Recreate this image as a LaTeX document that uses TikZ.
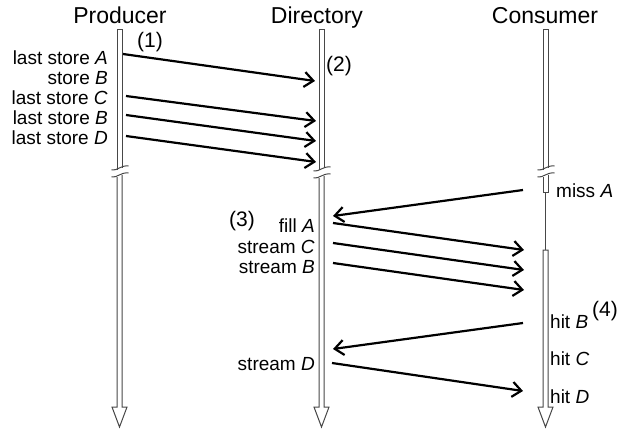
\documentclass[tikz,border=0pt]{standalone}
\usepackage{fontspec}
\setmainfont{Liberation Sans}
\usetikzlibrary{arrows.meta}
\newcommand{\lifebreak}[2]{%
  \draw[lifeline] ({#1-8},{#2+2}) .. controls ({#1-2},{#2+3}) and ({#1+1},{#2-3}) .. ({#1+9},{#2-2});}
\begin{document}
\begin{tikzpicture}[x=1pt,y=-1pt,
  lifeline/.style={draw=black!72, line width=1pt},
  shaft/.style={draw=black!72, line width=1pt, fill=white},
  msg/.style={line width=2.2pt, -{Straight Barb[length=9pt,width=15pt]}},
  title/.style={font=\fontsize{23}{26}\selectfont, anchor=base, inner sep=0pt},
  lbl/.style={font=\fontsize{19}{21}\selectfont, inner sep=0pt},
  num/.style={font=\fontsize{21}{24}\selectfont, inner sep=0pt}]
\useasboundingbox (0,0) rectangle (630,429);

% titles
\node[title] (tprod) at (120,23) {Producer};
\node[title] (tdir) at (317,23) {Directory};
\node[title] (tcons) at (545,23) {Consumer};

% producer lifeline
\draw[shaft] (117,170) -- (117,29) -- (122,29) -- (122,168);
\lifebreak{119.5}{168}
\lifebreak{119.5}{175}
\draw[shaft] (117,177) -- (117,407) -- (112,407) -- (119.5,427) -- (127,407) -- (122,407) -- (122,175);

% directory lifeline
\draw[shaft] (319,170) -- (319,29) -- (324,29) -- (324,168);
\lifebreak{321.5}{169}
\lifebreak{321.5}{176}
\draw[shaft] (319,178) -- (319,407) -- (314,407) -- (321.5,427) -- (329,407) -- (324,407) -- (324,176);

% consumer lifeline
\draw[shaft] (543,170) -- (543,29) -- (548,29) -- (548,168);
\lifebreak{545.5}{168}
\lifebreak{545.5}{175}
\draw[shaft] (543,177) -- (543,192) -- (548,192) -- (548,175);
\draw[lifeline] (545.5,192) -- (545.5,250);
\draw[shaft] (543,250) -- (543,407) -- (538,407) -- (545.5,427) -- (553,407) -- (548,407) -- (548,250) -- cycle;

% producer labels
\node[lbl, anchor=base east] (lA) at (108,64) {last store \textit{A}};
\node[lbl, anchor=base east] (lB0) at (108,84) {store \textit{B}};
\node[lbl, anchor=base east] (lC) at (108,104) {last store \textit{C}};
\node[lbl, anchor=base east] (lB) at (108,124) {last store \textit{B}};
\node[lbl, anchor=base east] (lD) at (108,144) {last store \textit{D}};
\node[num] (n1) at (150,42) {(1)};
\node[num] (n2) at (339,66) {(2)};

% producer -> directory
\coordinate (pA) at (123,54);  \coordinate (dA) at (315,81);
\coordinate (pC) at (126,96);  \coordinate (dC) at (316,121);
\coordinate (pB) at (126,115); \coordinate (dB) at (316,141);
\coordinate (pD) at (126,136); \coordinate (dD) at (316,162);
\draw[msg] (pA) -- (dA);
\draw[msg] (pC) -- (dC);
\draw[msg] (pB) -- (dB);
\draw[msg] (pD) -- (dD);

% directory labels
\node[num] (n3) at (242,221) {(3)};
\node[lbl, anchor=base east] (fA) at (315,232) {fill \textit{A}};
\node[lbl, anchor=base east] (sC) at (315,253) {stream \textit{C}};
\node[lbl, anchor=base east] (sB) at (315,273) {stream \textit{B}};
\node[lbl, anchor=base east] (sD) at (315,370) {stream \textit{D}};

% consumer labels
\node[lbl, anchor=base west] (mA) at (556,197) {miss \textit{A}};
\node[lbl, anchor=base west] (hB) at (550,328) {hit \textit{B}};
\node[num] (n4) at (605,311) {(4)};
\node[lbl, anchor=base west] (hC) at (550,365) {hit \textit{C}};
\node[lbl, anchor=base west] (hD) at (550,403) {hit \textit{D}};

% directory <-> consumer
\coordinate (cmiss) at (523,190); \coordinate (dmiss) at (333,216);
\coordinate (dfA) at (333,223);   \coordinate (cfA) at (524,250);
\coordinate (dsC) at (333,243);   \coordinate (csC) at (524,270);
\coordinate (dsB) at (333,263);   \coordinate (csB) at (524,290);
\coordinate (chB) at (523,323);   \coordinate (dhB) at (333,349);
\coordinate (dsD) at (332,363);   \coordinate (csD) at (523,391);
\draw[msg] (cmiss) -- (dmiss);
\draw[msg] (dfA) -- (cfA);
\draw[msg] (dsC) -- (csC);
\draw[msg] (dsB) -- (csB);
\draw[msg] (chB) -- (dhB);
\draw[msg] (dsD) -- (csD);
\end{tikzpicture}
\end{document}
